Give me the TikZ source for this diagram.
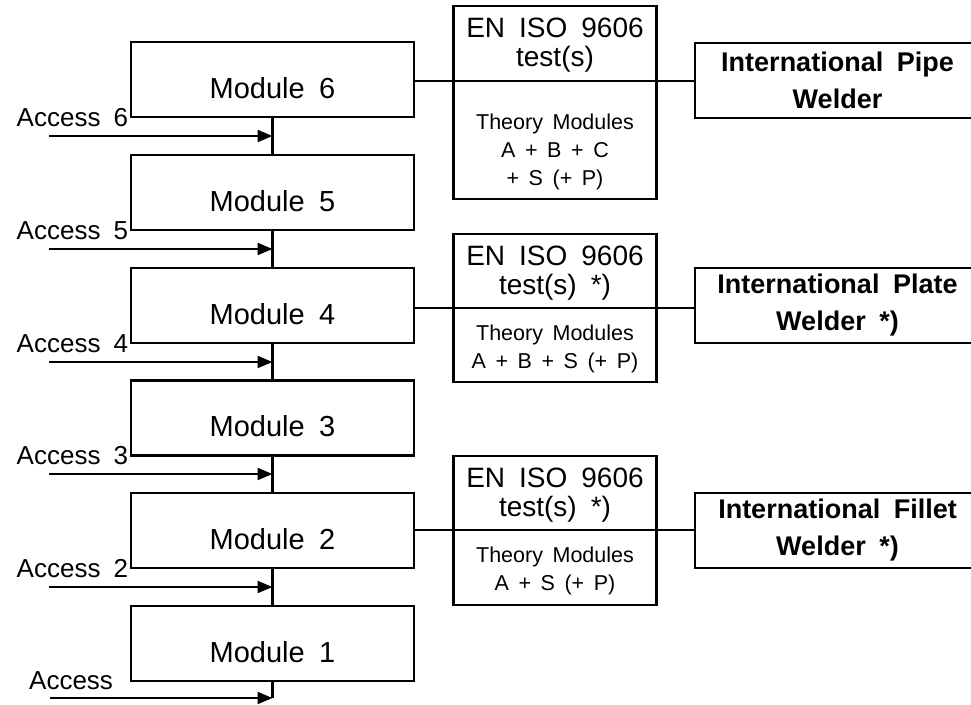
\documentclass[tikz,border=0pt]{standalone}
\usepackage{fontspec}
\setmainfont{Liberation Sans}[WordSpace=1.8]
\newfontfamily\theofont{Liberation Sans}[WordSpace=1.6]
\usetikzlibrary{arrows.meta}
\begin{document}
\begin{tikzpicture}[x=1pt,y=-1pt,
  every node/.style={inner sep=0pt, outer sep=0pt},
  ln/.style={line width=2.1pt},
  modbox/.style={draw, ln, minimum width=283pt, minimum height=75pt,
    font=\fontsize{29}{34}\selectfont, text height=37pt, text depth=0pt},
  acc/.style={font=\fontsize{26}{30}\selectfont, anchor=base east},
  enbox/.style={draw, ln, minimum width=203pt},
  entxt/.style={align=center, font=\fontsize{28}{29}\selectfont},
  theo/.style={align=center, font=\theofont\fontsize{21.5}{28}\selectfont},
  rbox/.style={draw, ln, minimum width=285pt, minimum height=75pt, align=center,
    font=\bfseries\fontsize{27}{37}\selectfont},
  arr/.style={ln, -{Triangle[length=15pt,width=12pt]}}
]
\useasboundingbox (0,0) rectangle (971,704);

% modules
\node[modbox] (m6) at (272.5,79.5)  {Module 6};
\node[modbox] (m5) at (272.5,192.5) {Module 5};
\node[modbox] (m4) at (272.5,305.5) {Module 4};
\node[modbox] (m3) at (272.5,418)   {Module 3};
\node[modbox] (m2) at (272.5,530.5) {Module 2};
\node[modbox] (m1) at (272.5,643.5) {Module 1};

% vertical chain
\draw[ln] (m6.south) -- (m5.north);
\draw[ln] (m5.south) -- (m4.north);
\draw[ln] (m4.south) -- (m3.north);
\draw[ln] (m3.south) -- (m2.north);
\draw[ln] (m2.south) -- (m1.north);

% access labels
\node[acc] (l6) at (128,126) {Access 6};
\node[acc] (l5) at (128,239) {Access 5};
\node[acc] (l4) at (128,352) {Access 4};
\node[acc] (l3) at (128,464) {Access 3};
\node[acc] (l2) at (128,577) {Access 2};
\node[acc] (l1) at (113,689) {Access};

% access arrows
\coordinate (s6) at (49,136);
\coordinate (s5) at (49,249);
\coordinate (s4) at (49,362);
\coordinate (s3) at (49,474);
\coordinate (s2) at (49,587);
\coordinate (s1) at (50,698);
\draw[arr] (s6) -- (s6 -| m6.south);
\draw[arr] (s5) -- (s5 -| m5.south);
\draw[arr] (s4) -- (s4 -| m4.south);
\draw[arr] (s3) -- (s3 -| m3.south);
\draw[arr] (s2) -- (s2 -| m2.south);
\draw[ln] (m1.south) -- (m1.south |- s1);
\draw[arr] (s1) -- (s1 -| m1.south);

% EN ISO boxes
\node[enbox, minimum height=75pt]  (t1) at (555,43.5) {};
\node[enbox, minimum height=118pt] (b1) at (555,140) {};
\node[enbox, minimum height=74pt]  (t2) at (555,271) {};
\node[enbox, minimum height=74pt]  (b2) at (555,345) {};
\node[enbox, minimum height=74pt]  (t3) at (555,493) {};
\node[enbox, minimum height=75pt]  (b3) at (555,567.5) {};

\node[entxt] (t1x) at (555,45.5)  {EN ISO 9606\\test(s)};
\node[entxt] (t2x) at (555,273.5) {EN ISO 9606\\test(s) *)};
\node[entxt] (t3x) at (555,495.5) {EN ISO 9606\\test(s) *)};
\node[theo] (b1x) at (555,152)   {Theory Modules\\A + B + C\\+ S (+ P)};
\node[theo] (b2x) at (555,348.5) {Theory Modules\\A + B + S (+ P)};
\node[theo] (b3x) at (555,570.5) {Theory Modules\\A + S (+ P)};

% result boxes
\node[rbox] (p1) at (837.5,80.5) {International Pipe\\Welder};
\node[rbox] (p2) at (837.5,305.5) {International Plate\\Welder *)};
\node[rbox] (p3) at (837.5,530.5) {International Fillet\\Welder *)};

% horizontal connectors
\draw[ln] (t1.south west -| m6.east) -- (t1.south west);
\draw[ln] (t1.south east) -- (t1.south east -| p1.west);
\draw[ln] (t2.south west -| m4.east) -- (t2.south west);
\draw[ln] (t2.south east) -- (t2.south east -| p2.west);
\draw[ln] (t3.south west -| m2.east) -- (t3.south west);
\draw[ln] (t3.south east) -- (t3.south east -| p3.west);
\end{tikzpicture}
\end{document}
